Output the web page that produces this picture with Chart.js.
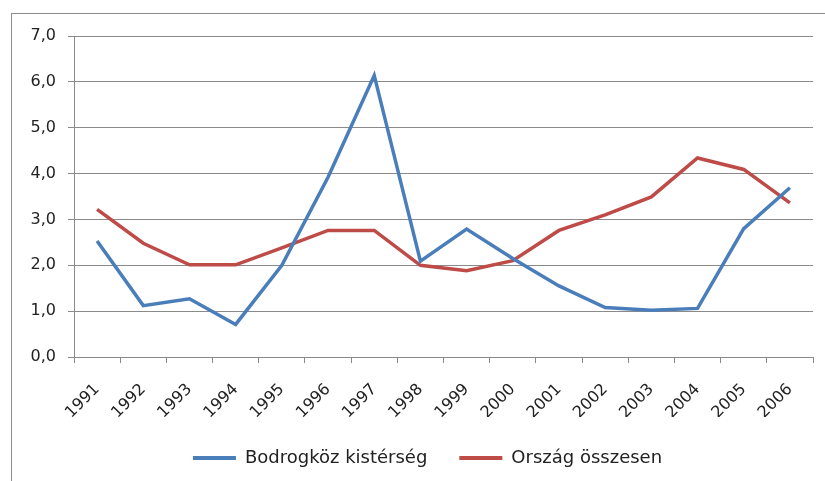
<!DOCTYPE html>
<html>
<head>
<meta charset="utf-8">
<script src="https://cdn.jsdelivr.net/npm/chart.js@4.4.0/dist/chart.umd.min.js"></script>
<style>
  html, body { margin: 0; padding: 0; background: #fff; }
  #wrap { position: relative; width: 825px; height: 481px; overflow: hidden; }
  #frame {
    position: absolute; left: 11px; top: 13px; width: 900px; height: 600px;
    border-left: 1px solid #8c8c8c; border-top: 1px solid #8c8c8c;
  }
  canvas { position: absolute; left: 0; top: 0; }
</style>
</head>
<body>
<div id="wrap">
  <div id="frame"></div>
  <canvas id="chart" width="825" height="481"></canvas>
</div>
<script>
// évek és a két adatsor (%)
const years = ["1991", "1992", "1993", "1994", "1995", "1996", "1997", "1998",
    "1999", "2000", "2001", "2002", "2003", "2004", "2005", "2006"];
const bodrogkoz = [2.53, 1.12, 1.27, 0.71, 2.0, 3.92, 6.14, 2.09,
    2.79, 2.15, 1.55, 1.08, 1.02, 1.06, 2.8, 3.69];
const orszag = [3.22, 2.48, 2.01, 2.01, 2.38, 2.76, 2.76, 2.0,
    1.88, 2.1, 2.76, 3.1, 3.49, 4.34, 4.09, 3.36];
const yTicks = [0, 1, 2, 3, 4, 5, 6, 7];

const gridGray = "#8a8a8a";

// a jelmagyarázat kicsit jobbra tolva, mint az eredetin
const legendShift = {
    id: "legendShift",
    afterLayout(chart) {
        if (!chart.legend) return;
        chart.legend.left += 21;
        chart.legend.right += 21;
    },
};

new Chart(document.getElementById("chart"), {
    type: "line",
    data: {
        labels: years,
        datasets: [
            {
                label: "Bodrogköz kistérség",
                data: bodrogkoz,
                borderColor: "#4a7ebb",
                backgroundColor: "#4a7ebb",
                borderWidth: 3.5,
                pointRadius: 0,
                tension: 0,
            },
            {
                label: "Ország összesen",
                data: orszag,
                borderColor: "#be4b48",
                backgroundColor: "#be4b48",
                borderWidth: 3.5,
                pointRadius: 0,
                tension: 0,
            },
        ],
    },
    options: {
        responsive: false,
        animation: false,
        layout: { padding: { top: 36, right: 12, bottom: 4, left: 0 } },
        plugins: {
            tooltip: { enabled: false },
            legend: {
                position: "bottom",
                labels: {
                    font: { family: "'DejaVu Sans'", size: 18 },
                    color: "#222",
                    boxWidth: 43,
                    boxHeight: 4,
                    padding: 32,
                    generateLabels: (chart) =>
                        Chart.defaults.plugins.legend.labels
                            .generateLabels(chart)
                            .map((l) => ({ ...l, lineWidth: 0 })),
                },
            },
        },
        scales: {
            x: {
                offset: true,
                grid: {
                    offset: true,
                    drawOnChartArea: false,
                    drawTicks: true,
                    tickLength: 6,
                    color: gridGray,
                },
                border: { color: gridGray },
                ticks: {
                    maxRotation: 45,
                    minRotation: 45,
                    autoSkip: false,
                    padding: 17,
                    color: "#222",
                    font: { family: "'DejaVu Sans'", size: 16 },
                },
                afterFit: (scale) => { scale.height = 60; },
            },
            y: {
                min: 0,
                max: 7,
                afterBuildTicks: (scale) => {
                    scale.ticks = yTicks.map((v) => ({ value: v }));
                },
                grid: { color: gridGray, tickLength: 6 },
                border: { color: gridGray },
                ticks: {
                    padding: 12,
                    color: "#222",
                    font: { family: "'DejaVu Sans'", size: 16 },
                    callback: (value) => value.toFixed(1).replace(".", ","),
                },
                afterFit: (scale) => { scale.width = 74; },
            },
        },
    },
    plugins: [legendShift],
});
</script>
</body>
</html>
